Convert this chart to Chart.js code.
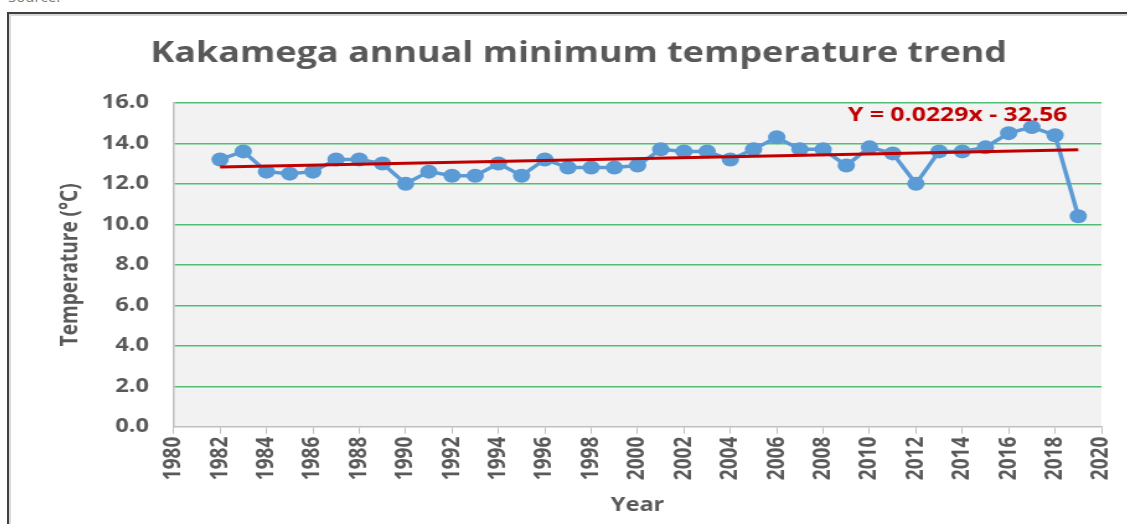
<!DOCTYPE html>
<html>
<head>
<meta charset="utf-8">
<script src="https://cdn.jsdelivr.net/npm/chart.js@4"></script>
<style>
	html, body { margin: 0; padding: 0; background: #fff; overflow: hidden; }
	body { width: 1127px; height: 524px; position: relative; }
	#source { position: absolute; left: 8px; top: -14px; font: 15px "Open Sans", sans-serif; color: #808080; }
	#frame {
		position: absolute; left: 7px; top: 12px; width: 1140px; height: 540px;
		border-left: 2px solid #3f3f3f; border-top: 2px solid #3f3f3f;
		box-shadow: inset 2px 2px 0 #d9d9d9;
	}
	#wrap {
		position: absolute; left: 9px; top: 15px; width: 910px; height: 509px;
		transform: scaleX(1.24); transform-origin: 0 0;
	}
</style>
</head>
<body>
<div id="source">Source:</div>
<div id="frame"></div>
<div id="wrap"><canvas id="chart"></canvas></div>
<script>
const years = [1982, 1983, 1984, 1985, 1986, 1987, 1988, 1989, 1990, 1991,
	1992, 1993, 1994, 1995, 1996, 1997, 1998, 1999, 2000, 2001,
	2002, 2003, 2004, 2005, 2006, 2007, 2008, 2009, 2010, 2011,
	2012, 2013, 2014, 2015, 2016, 2017, 2018, 2019];
const minTemp = [13.2, 13.6, 12.6, 12.5, 12.6, 13.2, 13.2, 13.0, 12.0, 12.6,
	12.4, 12.4, 13.0, 12.4, 13.2, 12.8, 12.8, 12.8, 12.9, 13.7,
	13.6, 13.6, 13.2, 13.7, 14.3, 13.7, 13.7, 12.9, 13.8, 13.5,
	12.0, 13.6, 13.6, 13.8, 14.5, 14.8, 14.4, 10.4];
const yearTicks = [1980, 1982, 1984, 1986, 1988, 1990, 1992, 1994, 1996, 1998, 2000,
	2002, 2004, 2006, 2008, 2010, 2012, 2014, 2016, 2018, 2020];
const tempTicks = [0, 2, 4, 6, 8, 10, 12, 14, 16];

// trendline as printed on the chart
const trendSlope = 0.0229;
const trendIntercept = -32.56;
const trendLabel = "Y = 0.0229x - 32.56";

const grey = "#595959";
const font = "'Open Sans', sans-serif";

const trendEnds = [years[0], years[years.length - 1]];

const plotBg = {
	id: "plotBg",
	beforeDraw(chart) {
		const a = chart.chartArea;
		chart.ctx.save();
		chart.ctx.fillStyle = "#f2f2f2";
		chart.ctx.fillRect(a.left, a.top, a.right - a.left, a.bottom - a.top);
		chart.ctx.restore();
	}
};

const trendText = {
	id: "trendText",
	afterDatasetsDraw(chart) {
		const c = chart.ctx;
		c.save();
		c.font = "bold 20px " + font;
		c.fillStyle = "#c00000";
		c.textAlign = "center";
		c.textBaseline = "middle";
		c.fillText(trendLabel, chart.scales.x.getPixelForValue(2013.8), chart.scales.y.getPixelForValue(15.4));
		c.restore();
	}
};

new Chart(document.getElementById("chart"), {
	type: "line",
	data: {
		datasets: [{
			label: "Trend",
			data: trendEnds.map(x => ({ x: x, y: trendSlope * x + trendIntercept })),
			borderColor: "#c00000",
			borderWidth: 3,
			pointRadius: 0,
			order: 0
		}, {
			label: "Minimum temperature",
			data: years.map((x, i) => ({ x: x, y: minTemp[i] })),
			borderColor: "#5b9bd5",
			backgroundColor: "#5b9bd5",
			borderWidth: 3.5,
			pointRadius: 7,
			pointBorderWidth: 0,
			order: 1
		}]
	},
	options: {
		responsive: true,
		maintainAspectRatio: false,
		animation: false,
		layout: { padding: { left: 38, right: 29, top: 0, bottom: 7 } },
		plugins: {
			legend: { display: false },
			tooltip: { enabled: false },
			title: {
				display: true,
				text: "Kakamega annual minimum temperature trend",
				color: grey,
				font: { family: font, size: 29, weight: "bold" },
				padding: { top: 21, bottom: 32 }
			}
		},
		scales: {
			x: {
				type: "linear",
				min: 1980,
				max: 2020,
				afterBuildTicks: axis => { axis.ticks = yearTicks.map(v => ({ value: v })); },
				ticks: {
					minRotation: 90,
					maxRotation: 90,
					padding: 3,
					color: grey,
					font: { family: font, size: 19, weight: "bold" },
					callback: v => String(v)
				},
				grid: { drawOnChartArea: false, drawTicks: true, tickLength: 7, tickColor: "#bfbfbf" },
				border: { display: true, color: "#bfbfbf", width: 1.5 },
				title: {
					display: true,
					text: "Year",
					color: grey,
					font: { family: font, size: 19, weight: "bold" },
					padding: { top: 11, bottom: 0 }
				}
			},
			y: {
				min: 0,
				max: 16,
				afterBuildTicks: axis => { axis.ticks = tempTicks.map(v => ({ value: v })); },
				ticks: {
					padding: 20,
					color: grey,
					font: { family: font, size: 19, weight: "bold" },
					callback: v => v.toFixed(1)
				},
				grid: {
					drawTicks: false,
					lineWidth: 1.5,
					color: c => c.tick && c.tick.value === 0 ? "rgba(0,0,0,0)" : "#50bf73"
				},
				border: { display: true, color: "#bfbfbf", width: 1.5 },
				title: {
					display: true,
					text: "Temperature (°C)",
					color: grey,
					font: { family: font, size: 19, weight: "bold" },
					padding: { top: 0, bottom: -6 }
				}
			}
		}
	},
	plugins: [plotBg, trendText]
});
</script>
</body>
</html>
